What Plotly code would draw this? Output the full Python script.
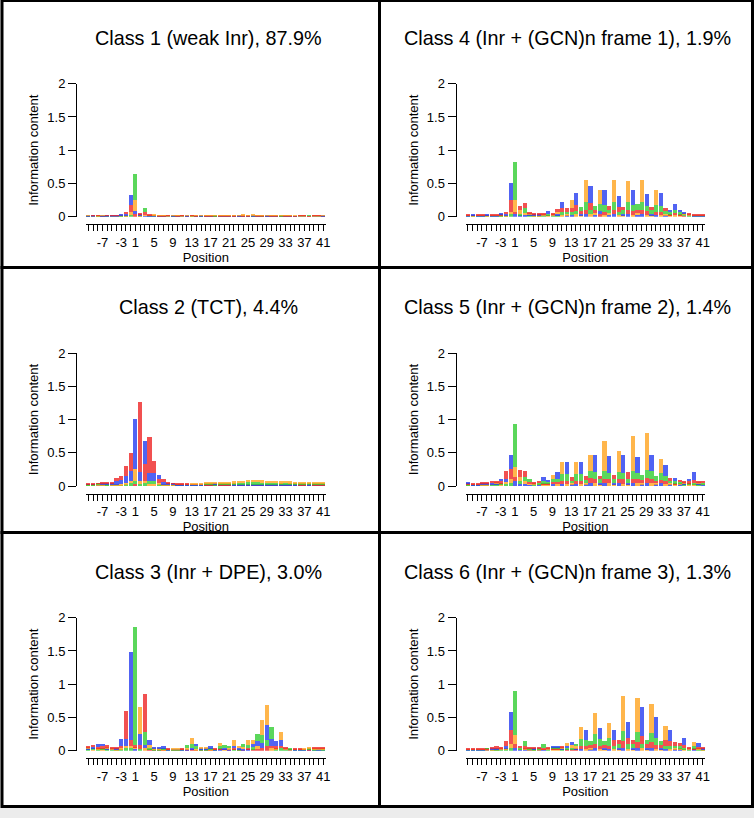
import plotly.graph_objects as go

# ---------------- data ----------------
positions = [str(p) for p in list(range(-10, 0)) + list(range(1, 42))]
shown_labels = ["-7", "-3", "1", "5", "9", "13", "17", "21", "25", "29", "33", "37", "41"]
y_ticks = [0, 0.5, 1, 1.5, 2]
y_tick_labels = ["0", "0.5", "1", "1.5", "2"]

titles = [
    "Class 1 (weak Inr), 87.9%",
    "Class 2 (TCT), 4.4%",
    "Class 3 (Inr + DPE), 3.0%",
    "Class 4 (Inr + (GCN)n frame 1), 1.9%",
    "Class 5 (Inr + (GCN)n frame 2), 1.4%",
    "Class 6 (Inr + (GCN)n frame 3), 1.3%",
]

# information content per letter; rows: pos -10..-1 | 1..10 | 11..20 | 21..30 | 31..41
A1 = [.006,.005,.006,.005,.006,.006,.007,.010,.010,.030,
      .390,.010,.060,.010,.008,.006,.006,.005,.006,.005,
      .006,.005,.006,.005,.006,.006,.005,.006,.005,.006,
      .005,.006,.005,.006,.005,.006,.005,.006,.005,.006,
      .005,.006,.005,.006,.005,.006,.005,.006,.005,.006,.005]
C1 = [.006,.006,.005,.006,.006,.007,.008,.015,.020,.150,
      .050,.015,.015,.010,.008,.007,.006,.006,.006,.005,
      .006,.006,.005,.006,.006,.006,.006,.005,.006,.006,
      .005,.006,.006,.006,.005,.006,.006,.005,.006,.006,
      .006,.005,.006,.006,.005,.006,.006,.005,.006,.006,.006]
G1 = [.006,.005,.006,.006,.005,.006,.007,.005,.010,.040,
      .160,.010,.015,.010,.010,.008,.007,.006,.006,.007,
      .006,.006,.006,.007,.007,.007,.008,.008,.009,.009,
      .010,.011,.012,.013,.014,.014,.013,.012,.011,.010,
      .009,.008,.007,.007,.006,.006,.006,.005,.006,.006,.006]
T1 = [.005,.006,.006,.005,.006,.007,.008,.010,.040,.110,
      .040,.020,.040,.010,.008,.007,.006,.006,.005,.006,
      .006,.005,.006,.006,.005,.006,.006,.005,.006,.006,
      .006,.006,.005,.006,.006,.005,.006,.006,.005,.006,
      .006,.005,.006,.006,.005,.006,.006,.005,.006,.006,.005]

A2 = [.010,.010,.012,.010,.012,.010,.010,.010,.020,.040,
      .040,.030,.040,.050,.050,.020,.010,.010,.010,.010,
      .010,.010,.010,.010,.010,.012,.012,.012,.014,.014,
      .016,.018,.020,.022,.024,.026,.026,.024,.022,.020,
      .020,.018,.020,.018,.016,.016,.018,.016,.016,.014,.014]
C2 = [.010,.012,.010,.012,.015,.020,.050,.060,.100,.150,
      .760,.140,.340,.120,.120,.070,.040,.020,.012,.010,
      .010,.010,.010,.010,.010,.010,.010,.012,.012,.012,
      .012,.014,.014,.016,.016,.016,.016,.016,.014,.014,
      .014,.014,.014,.014,.014,.012,.012,.014,.012,.012,.012]
G2 = [.008,.008,.010,.010,.010,.010,.010,.020,.030,.040,
      .180,.040,.040,.030,.030,.020,.010,.010,.010,.010,
      .010,.010,.012,.012,.012,.014,.016,.016,.018,.020,
      .022,.024,.026,.028,.030,.032,.034,.034,.032,.030,
      .030,.028,.026,.024,.022,.020,.020,.022,.020,.020,.018]
T2 = [.010,.012,.012,.014,.016,.020,.050,.060,.150,.270,
      .030,1.060,.250,.540,.180,.060,.050,.020,.012,.010,
      .010,.010,.010,.010,.010,.010,.010,.010,.012,.012,
      .012,.012,.012,.014,.014,.014,.014,.012,.012,.012,
      .012,.012,.012,.012,.012,.012,.012,.012,.012,.012,.012]

A3 = [.020,.025,.020,.025,.020,.015,.012,.020,.040,.040,
      1.780,.030,.200,.030,.015,.012,.015,.010,.009,.009,
      .010,.040,.050,.040,.013,.013,.015,.010,.030,.040,
      .030,.020,.020,.050,.050,.040,.100,.120,.090,.180,
      .020,.040,.015,.012,.010,.010,.010,.012,.012,.012,.012]
C3 = [.020,.025,.050,.030,.020,.015,.013,.100,.100,1.330,
      .030,.170,.050,.080,.020,.015,.030,.010,.009,.009,
      .010,.020,.030,.040,.013,.013,.030,.010,.020,.020,
      .020,.040,.020,.020,.020,.050,.080,.070,.220,.100,
      .080,.080,.015,.010,.010,.010,.010,.010,.010,.012,.010]
G3 = [.020,.015,.020,.020,.020,.015,.012,.020,.040,.040,
      .030,.400,.040,.040,.015,.013,.013,.010,.009,.009,
      .010,.020,.100,.020,.013,.013,.013,.010,.050,.015,
      .020,.080,.020,.030,.080,.060,.040,.220,.300,.040,
      .020,.130,.015,.010,.010,.010,.012,.014,.012,.012,.012]
T3 = [.020,.025,.020,.025,.030,.015,.013,.040,.420,.080,
      .030,.060,.560,.020,.010,.010,.012,.010,.008,.008,
      .010,.010,.020,.010,.011,.011,.012,.010,.020,.015,
      .010,.020,.010,.010,.020,.020,.030,.050,.080,.040,
      .030,.040,.015,.010,.010,.010,.010,.010,.012,.012,.012]

A4 = [.010,.010,.010,.010,.010,.010,.010,.012,.010,.040,
      .580,.030,.070,.020,.012,.012,.015,.020,.015,.020,
      .040,.040,.040,.050,.060,.120,.070,.060,.100,.100,
      .050,.120,.050,.050,.120,.090,.080,.120,.080,.050,
      .100,.080,.040,.030,.050,.030,.020,.015,.010,.010,.010]
C4 = [.010,.012,.010,.010,.012,.010,.010,.015,.020,.250,
      .040,.020,.030,.020,.013,.013,.015,.040,.015,.020,
      .100,.020,.030,.180,.030,.050,.260,.030,.050,.220,
      .030,.050,.160,.030,.050,.220,.030,.050,.180,.030,
      .030,.200,.020,.030,.090,.030,.025,.015,.010,.010,.010]
G4 = [.010,.010,.010,.010,.010,.010,.010,.010,.010,.040,
      .170,.050,.030,.020,.012,.012,.015,.015,.015,.040,
      .030,.020,.120,.040,.020,.330,.040,.030,.220,.030,
      .030,.330,.030,.020,.320,.030,.030,.340,.030,.020,
      .220,.030,.030,.020,.030,.020,.020,.015,.010,.010,.010]
T4 = [.010,.010,.012,.010,.010,.012,.012,.013,.040,.180,
      .040,.060,.080,.020,.013,.013,.015,.015,.015,.040,
      .060,.060,.060,.090,.040,.050,.100,.050,.040,.050,
      .050,.050,.070,.050,.050,.060,.050,.050,.060,.050,
      .050,.050,.050,.020,.030,.020,.015,.015,.010,.010,.010]

A5 = [.015,.010,.010,.012,.012,.015,.020,.025,.030,.050,
      .640,.050,.060,.040,.015,.020,.030,.025,.040,.050,
      .100,.100,.040,.100,.100,.050,.100,.100,.050,.120,
      .100,.060,.100,.100,.060,.120,.100,.070,.120,.120,
      .070,.100,.080,.040,.030,.025,.020,.025,.030,.020,.020]
C5 = [.020,.010,.010,.013,.013,.020,.020,.030,.050,.200,
      .070,.030,.030,.015,.015,.015,.060,.025,.030,.100,
      .030,.180,.020,.030,.180,.020,.040,.250,.030,.040,
      .250,.030,.040,.260,.030,.040,.230,.020,.050,.240,
      .020,.040,.160,.020,.050,.020,.020,.030,.120,.020,.015]
G5 = [.010,.010,.010,.012,.012,.015,.020,.020,.030,.060,
      .150,.060,.040,.015,.015,.015,.020,.020,.060,.030,
      .180,.030,.020,.180,.030,.020,.250,.040,.020,.450,
      .040,.020,.320,.030,.020,.520,.040,.020,.560,.040,
      .020,.220,.030,.020,.020,.020,.020,.020,.020,.020,.015]
T5 = [.015,.010,.010,.013,.013,.020,.020,.025,.120,.150,
      .070,.100,.100,.030,.015,.020,.020,.020,.030,.030,
      .050,.050,.060,.050,.050,.060,.080,.070,.050,.070,
      .060,.060,.070,.070,.100,.070,.060,.050,.070,.060,
      .040,.050,.040,.040,.020,.025,.020,.025,.040,.020,.020]

A6 = [.010,.010,.010,.010,.012,.012,.015,.015,.020,.050,
      .660,.020,.080,.013,.012,.013,.050,.015,.018,.018,
      .020,.030,.030,.030,.100,.080,.060,.140,.100,.060,
      .120,.040,.050,.150,.070,.050,.150,.060,.070,.140,
      .100,.060,.040,.040,.040,.030,.030,.015,.030,.020,.012]
C6 = [.010,.010,.010,.010,.011,.013,.015,.015,.030,.280,
      .050,.015,.020,.012,.012,.012,.015,.015,.018,.018,
      .020,.030,.050,.025,.030,.150,.020,.040,.160,.030,
      .030,.160,.030,.050,.240,.030,.050,.440,.030,.050,
      .320,.030,.030,.170,.020,.020,.100,.015,.020,.060,.013]
G6 = [.010,.010,.010,.010,.011,.012,.010,.015,.020,.060,
      .140,.015,.020,.012,.011,.012,.015,.015,.017,.017,
      .020,.040,.040,.025,.180,.030,.020,.320,.030,.020,
      .220,.030,.020,.520,.030,.020,.500,.040,.020,.440,
      .030,.020,.200,.030,.020,.020,.020,.015,.070,.020,.012]
T6 = [.010,.010,.010,.010,.011,.013,.030,.015,.080,.200,
      .050,.030,.030,.013,.025,.013,.020,.015,.017,.017,
      .020,.020,.020,.020,.050,.050,.050,.070,.050,.040,
      .050,.090,.060,.100,.100,.070,.090,.120,.050,.080,
      .060,.040,.100,.080,.060,.050,.040,.015,.020,.020,.013]

class_data = [
    (A1, C1, G1, T1), (A2, C2, G2, T2), (A3, C3, G3, T3),
    (A4, C4, G4, T4), (A5, C5, G5, T5), (A6, C6, G6, T6),
]
letters = ["A", "C", "G", "T"]
letter_colors = {"A": "#2ECC2E", "C": "#2038F0", "G": "#FFA21A", "T": "#EE2020"}

# ---------------- geometry (pixels) ----------------
W, H = 754, 818
FONT = "Liberation Sans, Arial, Helvetica, sans-serif"
col_off = [0.0, 379.5]
row_base = [216.7, 486.0, 750.7]
unit = 66.5
title_cx = [208.0, 567.5]
col_rect = [(2.0, 379.5), (379.5, 752.5)]
row_rect = [(0.5, 267.5), (267.5, 532.5), (532.5, 806.5)]

def fx(px):
    return px / W

def fy(py):
    return 1 - py / H

fig = go.Figure()
layout = dict(
    width=W, height=H, margin=dict(l=0, r=0, t=0, b=0, autoexpand=False),
    paper_bgcolor="#ececec", plot_bgcolor="rgba(0,0,0,0)",
    barmode="stack", bargap=0, showlegend=False,
    font=dict(family=FONT, size=13, color="black"),
)
shapes, annotations = [], []

for k in range(6):
    col, row = k // 3, k % 3
    n = k + 1
    xa = "x" if n == 1 else f"x{n}"
    ya = "y" if n == 1 else f"y{n}"
    off = col_off[col]
    base = row_base[row]

    # stack letters per position: smallest at bottom, largest on top
    vals = class_data[k]
    ranks = [[], [], [], []]
    for i in range(len(positions)):
        col_vals = sorted(zip([v[i] for v in vals], letters))
        for r in range(4):
            ranks[r].append(col_vals[r])
    for r in range(4):
        fig.add_trace(go.Bar(
            x=list(range(len(positions))),
            y=[h for h, _ in ranks[r]],
            marker=dict(color=[letter_colors[l] for _, l in ranks[r]], line=dict(width=0)),
            opacity=0.78,
            width=0.9,
            customdata=[[l, positions[i]] for i, (_, l) in enumerate(ranks[r])],
            hovertemplate="Position %{customdata[1]}<br>%{customdata[0]}: %{y:.2f}<extra></extra>",
            xaxis=xa, yaxis=ya,
        ))

    layout["xaxis" if n == 1 else f"xaxis{n}"] = dict(
        domain=[fx(86.0 + off), fx(325.5 + off)],
        anchor="free", position=fy(base + 7.5),
        range=[-0.5, 50.5], automargin=False,
        tickmode="array",
        tickvals=list(range(len(positions))),
        ticktext=[p if p in shown_labels else "" for p in positions],
        tickangle=0, ticks="outside", ticklen=6, tickwidth=1, tickcolor="black",
        showline=True, linecolor="black", linewidth=1,
        showgrid=False, zeroline=False,
        tickfont=dict(family=FONT, size=13, color="black"),
        title=dict(text="Position", standoff=0, font=dict(family=FONT, size=13, color="black")),
        fixedrange=True,
    )
    layout["yaxis" if n == 1 else f"yaxis{n}"] = dict(
        domain=[fy(base), fy(base - 2 * unit)],
        anchor="free", position=fx(76.0 + off),
        range=[0, 2], automargin=False,
        tickmode="array", tickvals=y_ticks, ticktext=y_tick_labels,
        ticks="outside", ticklen=8, tickwidth=1, tickcolor="black",
        showline=True, linecolor="black", linewidth=1,
        showgrid=False, zeroline=False,
        tickfont=dict(family=FONT, size=13, color="black"),
        title=dict(text="Information content", standoff=4,
                   font=dict(family=FONT, size=13, color="black")),
        fixedrange=True,
    )

    x0, x1 = col_rect[col]
    y0, y1 = row_rect[row]
    shapes.append(dict(type="rect", xref="paper", yref="paper",
                       x0=fx(x0), x1=fx(x1), y0=fy(y1), y1=fy(y0),
                       line=dict(color="black", width=3), fillcolor="white", layer="below"))
    annotations.append(dict(text=titles[k], xref="paper", yref="paper",
                            x=fx(title_cx[col]), y=fy(base - 178.7),
                            xanchor="center", yanchor="middle", showarrow=False,
                            font=dict(family=FONT, size=19.8, color="black")))

layout["shapes"] = shapes
layout["annotations"] = annotations
fig.update_layout(**layout)
fig.write_html(
    "out.html",
    config={"displayModeBar": False},
    post_script="document.body.style.margin='0';document.body.style.overflow='hidden';",
)
